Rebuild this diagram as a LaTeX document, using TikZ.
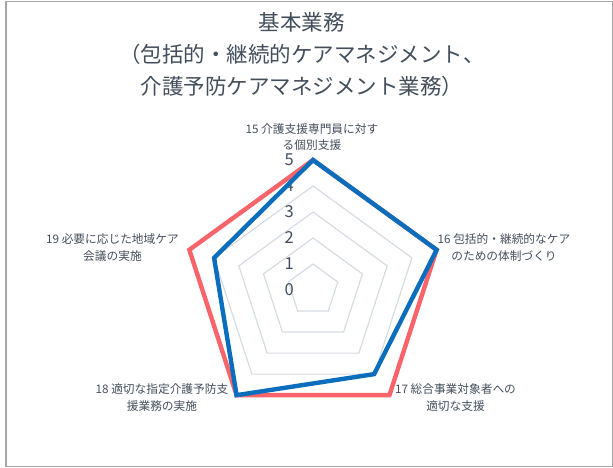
\documentclass[tikz,border=0pt]{standalone}
\usepackage{fontspec}
\setmainfont{Noto Sans CJK JP}
\definecolor{texte}{HTML}{434E5C}
\definecolor{grille}{HTML}{D6DBE3}
\definecolor{cadre}{HTML}{A6A6A6}
\definecolor{rouge}{HTML}{F8646A}
\definecolor{bleu}{HTML}{0A6EBD}

\begin{document}
\begin{tikzpicture}[x=1pt, y=1pt]
\tikzset{titre/.style={text=texte, align=center, font=\fontsize{21.5}{32}\selectfont},
  axe/.style={text=texte, align=center, font=\fontsize{11.7}{16.5}\selectfont},
  echelle/.style={text=texte, anchor=east, font=\fontsize{16.5}{17}\selectfont, inner sep=0pt},
  anneau/.style={draw=grille, line width=1.2pt},
  serie/.style={line width=4.4pt, line join=miter, miter limit=10}}
\useasboundingbox (-313, -178) rectangle (300, 290);
\draw[cadre, line width=1.3pt] (-307, -176.5) rectangle (299.5, 288.5);
% titre
\node[titre] (T) at (-11, 236) {基本業務\\（包括的・継続的ケアマネジメント、\\介護予防ケアマネジメント業務）};
% anneaux
\draw[anneau] (90:26) -- (18:26) -- (-54:26) -- (-126:26) -- (162:26) -- cycle;
\draw[anneau] (90:52) -- (18:52) -- (-54:52) -- (-126:52) -- (162:52) -- cycle;
\draw[anneau] (90:78) -- (18:78) -- (-54:78) -- (-126:78) -- (162:78) -- cycle;
\draw[anneau] (90:104) -- (18:104) -- (-54:104) -- (-126:104) -- (162:104) -- cycle;
\draw[anneau] (90:130) -- (18:130) -- (-54:130) -- (-126:130) -- (162:130) -- cycle;
% echelle
\node[echelle] (E0) at (-19, 0) {0};
\node[echelle] (E1) at (-19, 26) {1};
\node[echelle] (E2) at (-19, 52) {2};
\node[echelle] (E3) at (-19, 78) {3};
\node[echelle] (E4) at (-19, 104) {4};
\node[echelle] (E5) at (-19, 130) {5};
% libelles
\node[axe] (A15) at (-1, 153) {15 介護支援専門員に対す\\る個別支援};
\node[axe] (A16) at (191, 42.5) {16 包括的・継続的なケア\\のための体制づくり};
\node[axe] (A17) at (142.5, -107.5) {17 総合事業対象者への\\適切な支援};
\node[axe] (A18) at (-151, -107.5) {18 適切な指定介護予防支\\援業務の実施};
\node[axe] (A19) at (-200.5, 42.5) {19 必要に応じた地域ケア\\会議の実施};
% series
\coordinate (R15) at (90:130);
\coordinate (R16) at (18:130);
\coordinate (R17) at (-54:130);
\coordinate (R18) at (-126:130);
\coordinate (R19) at (162:130);
\coordinate (B15) at (90:130);
\coordinate (B16) at (18:130);
\coordinate (B17) at (-54:104);
\coordinate (B18) at (-126:130);
\coordinate (B19) at (162:104);
\draw[serie, rouge] (R15) -- (R16) -- (R17) -- (R18) -- (R19) -- cycle;
\draw[serie, bleu] (B15) -- (B16) -- (B17) -- (B18) -- (B19) -- cycle;
\end{tikzpicture}
\end{document}
